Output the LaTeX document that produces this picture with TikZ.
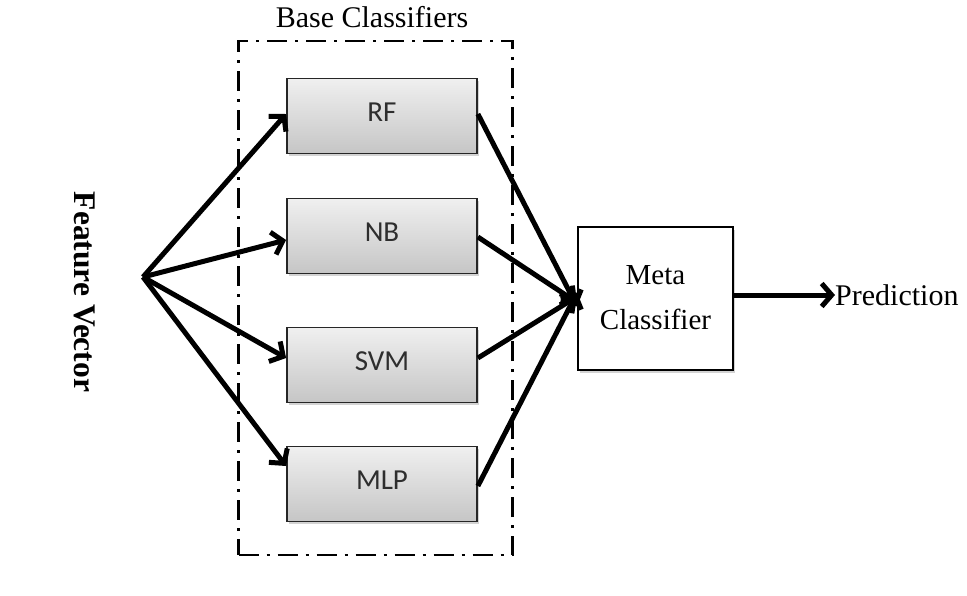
\documentclass[tikz,border=0pt]{standalone}
\usepackage{fontspec}
\setmainfont{Liberation Serif}
\newfontfamily\boxfont{Carlito}
\usetikzlibrary{arrows.meta,shadows}
\begin{document}
\begin{tikzpicture}[x=1pt,y=-1pt,
  base/.style={draw=black!85,line width=1.8pt,minimum width=190pt,minimum height=75pt,
    inner sep=0pt,top color=gray!12,bottom color=gray!45,
    drop shadow={shadow xshift=2pt,shadow yshift=-2.5pt,opacity=0.35},
    font=\boxfont\fontsize{29}{31}\selectfont,text=black!82},
  meta/.style={draw=black,line width=1.8pt,minimum width=155pt,minimum height=143pt,
    inner sep=0pt,fill=white,align=center,
    drop shadow={shadow xshift=2pt,shadow yshift=-2.5pt,opacity=0.35},
    font=\fontsize{29}{45}\selectfont},
  lbl/.style={font=\fontsize{30}{32}\selectfont,inner sep=0pt},
  conn/.style={line width=5pt,-{Straight Barb[length=10pt,width=23pt]}},
  group/.style={line width=2.6pt,dash pattern=on 20pt off 8pt on 3pt off 8pt}
]
\useasboundingbox (0,0) rectangle (967,595);
\node[group,draw,minimum width=274pt,minimum height=514pt,inner sep=0pt] (grp) at (375.5,298) {};
\node[lbl] (bc) at (372,17) {Base Classifiers};
\node[base] (rf) at (382,116) {\raisebox{7pt}{RF}};
\node[base] (nb) at (382,236) {\raisebox{7pt}{NB}};
\node[base] (svm) at (382,365) {\raisebox{7pt}{SVM}};
\node[base] (mlp) at (382,484) {\raisebox{7pt}{MLP}};
\node[meta] (mc) at (655.5,298.5) {\raisebox{3pt}{Meta}\\\raisebox{3pt}{Classifier}};
\node[lbl,anchor=west] (pred) at (835,295) {Prediction};
\node[lbl,font=\bfseries\fontsize{31.5}{32}\selectfont,rotate=-90] (fv) at (85,292) {Feature Vector};
\coordinate (o) at (143,277);
\draw[conn] (o) -- ([yshift=2pt]rf.west);
\draw[conn] (o) -- ([yshift=-4pt]nb.west);
\draw[conn] (o) -- ([yshift=7pt]svm.west);
\draw[conn] (o) -- ([yshift=18pt]mlp.west);
\draw[conn] ([yshift=2pt]rf.east) -- ([yshift=-8pt]mc.west);
\draw[conn] ([yshift=-1pt]nb.east) -- ([yshift=-4pt]mc.west);
\draw[conn] ([yshift=7pt]svm.east) -- ([yshift=2pt]mc.west);
\draw[conn] ([yshift=-2pt]mlp.east) -- ([yshift=6pt]mc.west);
\draw[conn] ([yshift=3.5pt]mc.east) -- (pred.west);
\end{tikzpicture}
\end{document}
